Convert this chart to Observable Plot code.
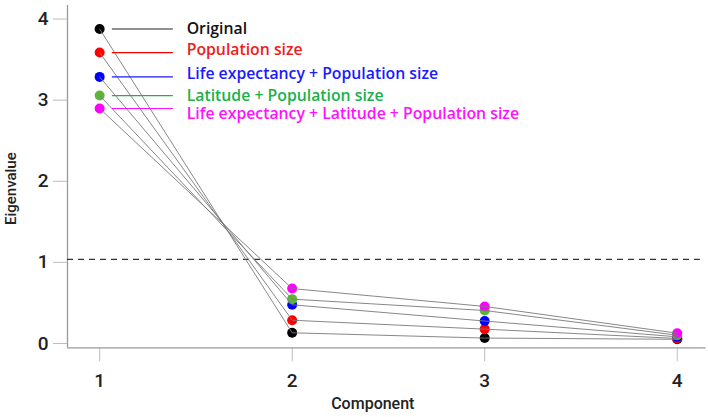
<!DOCTYPE html>
<html>
<head>
<meta charset="utf-8">
<script src="https://cdn.jsdelivr.net/npm/d3@7"></script>
<script src="https://cdn.jsdelivr.net/npm/@observablehq/plot@0.6"></script>
<style>
  html, body { margin: 0; padding: 0; background: #fff; }
</style>
</head>
<body>
<div id="chart"></div>
<script>
const components = [1, 2, 3, 4];
const seriesNames = [
  "Original",
  "Population size",
  "Life expectancy + Population size",
  "Latitude + Population size",
  "Life expectancy + Latitude + Population size"
];
const original = [3.84, 0.095, 0.03, 0.015];
const popSize = [3.55, 0.25, 0.14, 0.025];
const lifePop = [3.25, 0.44, 0.24, 0.045];
const latPop = [3.02, 0.51, 0.37, 0.065];
const lifeLatPop = [2.86, 0.64, 0.42, 0.09];
const yTicks = [0, 1, 2, 3, 4];

const allValues = [original, popSize, lifePop, latPop, lifeLatPop];
const pointColors = ["#000000", "#ff0000", "#0000ff", "#5cb53a", "#ff00ff"];
const lineColors = ["#222222", "#ff0000", "#1a1aff", "#20b04a", "#ff10ff"];
const textColors = ["#111111", "#ee1c1c", "#1a1aff", "#20b04a", "#ff10ff"];
const labelShift = [0, -3, -3, 0, 5];

const rows = [];
allValues.forEach((vals, si) => {
  vals.forEach((v, i) => rows.push({series: seriesNames[si], si, component: components[i], value: v}));
});
const legend = seriesNames.map((name, si) => ({name, si, value: allValues[si][0]}));

const chart = Plot.plot({
  width: 708,
  height: 417,
  marginLeft: 67,
  marginRight: 2.4,
  marginTop: 5,
  marginBottom: 69.7,
  style: {fontFamily: "Roboto, sans-serif", background: "#fff", overflow: "visible"},
  x: {domain: [0.833, 4.15], label: null},
  y: {domain: [-0.09, 4.13], label: null},
  marks: [
    Plot.axisX({ticks: components, tickSize: 14, tickPadding: 12, stroke: "#bdbdbd", fill: "#222", fontSize: 19, fontWeight: 500, tickFormat: d3.format("d")}),
    Plot.axisY({ticks: yTicks, tickSize: 14, tickPadding: 5, stroke: "#bdbdbd", fill: "#222", fontSize: 19, fontWeight: 500, dy: 3, tickFormat: d3.format("d")}),
    Plot.ruleX([0.833], {stroke: "#9a9a9a", strokeWidth: 1.3}),
    Plot.ruleY([-0.09], {stroke: "#9a9a9a", strokeWidth: 1.3}),
    Plot.ruleY([1], {x1: 0.833, x2: 4.12, stroke: "#333", strokeWidth: 1.2, strokeDasharray: "6,5"}),
    Plot.dot(rows, {x: "component", y: "value", r: 5, fill: d => pointColors[d.si], stroke: "none"}),
    Plot.line(rows, {x: "component", y: "value", z: "series", stroke: "#7a7a7a", strokeWidth: 1, strokeOpacity: 0.9}),
    Plot.ruleY(legend, {y: "value", x1: 1.066, x2: 1.383, stroke: d => lineColors[d.si], strokeWidth: 1.2}),
    ...legend.map(d => Plot.text([d], {x: 1.452, y: "value", text: "name", textAnchor: "start", dy: labelShift[d.si], fill: textColors[d.si], fontSize: 15.8, fontWeight: 600, fontFamily: "'Open Sans', sans-serif"})),
    Plot.text(["Eigenvalue"], {frameAnchor: "left", textAnchor: "middle", lineAnchor: "middle", rotate: -90, dx: -56, dy: 12, fill: "#222", fontSize: 15, fontWeight: 500}),
    Plot.text(["Component"], {frameAnchor: "bottom", textAnchor: "middle", lineAnchor: "middle", dx: -14, dy: 56, fill: "#222", fontSize: 16, fontWeight: 500})
  ]
});
document.getElementById("chart").appendChild(chart);
</script>
</body>
</html>
